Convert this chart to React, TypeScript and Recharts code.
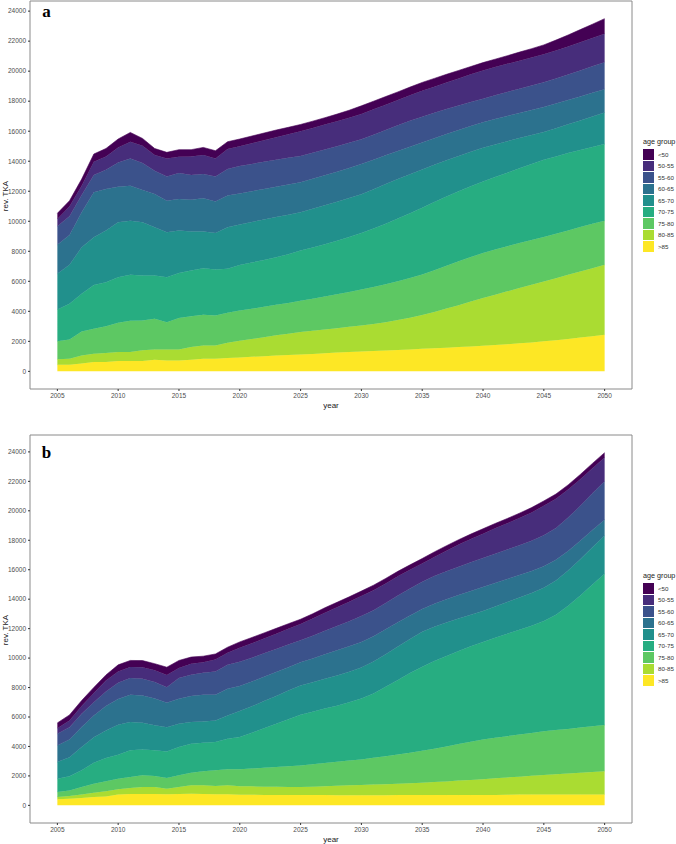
import { AreaChart, Area, XAxis, YAxis, ReferenceArea, ReferenceDot } from 'recharts'

const years = Array.from({ length: 46 }, (_, i) => 2005 + i)

const groups = ['<50', '50-55', '55-60', '60-65', '65-70', '70-75', '75-80', '80-85', '>85']
const colors = ['#440154', '#472D7B', '#3B528B', '#2C728E', '#21908C', '#27AD81', '#5DC863', '#AADC32', '#FDE725']

const xTicks = [2005, 2010, 2015, 2020, 2025, 2030, 2035, 2040, 2045, 2050]
const yTicks = [0, 2000, 4000, 6000, 8000, 10000, 12000, 14000, 16000, 18000, 20000, 22000, 24000]

// panel a, one array per age group, 2005..2050
const aUnder50 = [380, 370, 440, 510, 530, 560, 620, 490, 440, 400, 470, 450, 510, 510, 490, 490, 480, 480, 480, 460, 450, 450, 460, 480, 500, 540, 540, 540, 540, 550, 560, 550, 540, 530, 520, 520, 530, 540, 570, 590, 630, 690, 760, 840, 920, 1000]
const a50 = [480, 670, 620, 890, 880, 1000, 1110, 1150, 1040, 1200, 1090, 1240, 1260, 1200, 1330, 1310, 1380, 1440, 1500, 1570, 1650, 1660, 1660, 1660, 1670, 1680, 1690, 1690, 1690, 1700, 1720, 1740, 1770, 1800, 1840, 1880, 1880, 1880, 1870, 1860, 1850, 1860, 1870, 1880, 1890, 1900]
const a55 = [1240, 1240, 1150, 1150, 1290, 1620, 1820, 1800, 1550, 1620, 1730, 1640, 1620, 1680, 1770, 1830, 1820, 1810, 1800, 1780, 1750, 1730, 1720, 1700, 1680, 1660, 1670, 1690, 1710, 1720, 1720, 1700, 1670, 1640, 1610, 1580, 1580, 1590, 1610, 1630, 1650, 1670, 1700, 1730, 1760, 1800]
const a60 = [1930, 1990, 2330, 2990, 2770, 2370, 2330, 2150, 2220, 2100, 2100, 2130, 2220, 2090, 2110, 2060, 2050, 2040, 2020, 2010, 2000, 2000, 2000, 2000, 2000, 2010, 1960, 1910, 1870, 1840, 1800, 1770, 1750, 1730, 1710, 1690, 1690, 1690, 1680, 1670, 1670, 1650, 1620, 1600, 1580, 1550]
const a65 = [2380, 2600, 3100, 3180, 3440, 3660, 3610, 3540, 3210, 3000, 2820, 2590, 2440, 2440, 2770, 2710, 2700, 2690, 2680, 2640, 2550, 2580, 2590, 2600, 2600, 2580, 2620, 2640, 2630, 2590, 2550, 2480, 2410, 2350, 2300, 2250, 2170, 2090, 2010, 1930, 1850, 1880, 1920, 1970, 2030, 2110]
const a70 = [2120, 2370, 2510, 2920, 2930, 3030, 3060, 3000, 2890, 2990, 3010, 3040, 3100, 3050, 2930, 3030, 3080, 3120, 3170, 3240, 3350, 3420, 3490, 3570, 3660, 3770, 3900, 4040, 4180, 4320, 4440, 4540, 4610, 4660, 4710, 4770, 4830, 4900, 4980, 5070, 5150, 5150, 5150, 5140, 5120, 5100]
const a75 = [1200, 1290, 1600, 1660, 1790, 1950, 2080, 1990, 2040, 1820, 2090, 2060, 2040, 2000, 1990, 2010, 2020, 2030, 2030, 2050, 2080, 2130, 2190, 2250, 2320, 2400, 2460, 2520, 2580, 2640, 2700, 2780, 2860, 2930, 2970, 2990, 3010, 3010, 3000, 2980, 2960, 2960, 2960, 2960, 2960, 2940]
const a80 = [360, 400, 530, 560, 600, 600, 600, 710, 680, 730, 730, 840, 890, 890, 1020, 1110, 1180, 1260, 1350, 1420, 1500, 1540, 1580, 1630, 1680, 1720, 1800, 1890, 2000, 2120, 2260, 2420, 2600, 2790, 2990, 3190, 3360, 3520, 3680, 3840, 3990, 4130, 4270, 4400, 4530, 4660]
const aOver85 = [440, 440, 530, 620, 620, 690, 690, 690, 780, 730, 730, 780, 840, 840, 890, 930, 970, 1010, 1050, 1090, 1120, 1160, 1210, 1250, 1290, 1330, 1360, 1390, 1420, 1460, 1500, 1540, 1580, 1620, 1660, 1700, 1750, 1810, 1870, 1930, 2000, 2080, 2160, 2250, 2340, 2440]

// panel b
const bUnder50 = [360, 380, 380, 380, 380, 450, 450, 450, 450, 520, 520, 450, 410, 380, 380, 400, 390, 380, 370, 350, 330, 330, 340, 340, 340, 340, 340, 340, 340, 340, 340, 340, 340, 330, 330, 330, 330, 330, 330, 330, 330, 320, 320, 330, 330, 330]
const b50 = [380, 450, 520, 630, 750, 770, 750, 790, 790, 840, 680, 750, 720, 810, 810, 950, 980, 1010, 1040, 1070, 1100, 1160, 1220, 1270, 1320, 1360, 1360, 1330, 1300, 1260, 1230, 1300, 1400, 1500, 1580, 1650, 1720, 1780, 1850, 1930, 2000, 1980, 1900, 1800, 1700, 1620]
const b55 = [790, 840, 900, 900, 990, 1090, 1130, 1130, 1130, 1060, 1400, 1450, 1490, 1580, 1630, 1650, 1620, 1590, 1560, 1530, 1500, 1550, 1600, 1650, 1700, 1750, 1770, 1790, 1810, 1830, 1850, 1880, 1900, 1930, 1950, 1980, 1990, 2000, 2020, 2040, 2100, 2170, 2270, 2380, 2490, 2600]
const b60 = [1130, 1200, 1360, 1470, 1650, 1760, 1850, 1850, 1810, 1650, 1700, 1760, 1810, 1740, 1810, 1700, 1680, 1650, 1620, 1590, 1570, 1610, 1660, 1710, 1720, 1740, 1720, 1690, 1650, 1600, 1550, 1570, 1580, 1600, 1610, 1620, 1590, 1560, 1530, 1500, 1470, 1400, 1330, 1250, 1170, 1080]
const b65 = [1130, 1290, 1580, 1740, 1880, 2030, 1920, 1810, 1700, 1650, 1580, 1470, 1450, 1470, 1580, 1750, 1800, 1850, 1890, 1940, 1980, 2010, 2030, 2060, 2080, 2100, 2160, 2210, 2270, 2320, 2370, 2320, 2260, 2200, 2150, 2100, 2130, 2160, 2190, 2220, 2250, 2320, 2390, 2460, 2530, 2600]
const b70 = [900, 970, 1130, 1420, 1580, 1630, 1810, 1760, 1740, 1810, 1920, 1970, 1940, 1920, 2080, 2200, 2430, 2680, 2940, 3200, 3450, 3560, 3700, 3800, 3960, 4150, 4370, 4710, 5060, 5400, 5720, 5950, 6150, 6320, 6480, 6630, 6790, 6950, 7110, 7280, 7490, 7840, 8360, 8960, 9630, 10270]
const b75 = [340, 380, 520, 610, 680, 720, 750, 790, 750, 720, 790, 860, 950, 1060, 1090, 1150, 1210, 1280, 1340, 1410, 1470, 1520, 1570, 1630, 1680, 1730, 1820, 1900, 1990, 2080, 2170, 2270, 2380, 2480, 2590, 2690, 2750, 2800, 2860, 2910, 2970, 3000, 3030, 3070, 3100, 3130]
const b80 = [160, 180, 230, 290, 340, 360, 410, 480, 480, 380, 480, 570, 590, 570, 610, 580, 570, 560, 550, 545, 540, 570, 600, 640, 670, 700, 720, 750, 770, 800, 820, 870, 920, 980, 1030, 1080, 1130, 1180, 1220, 1270, 1320, 1370, 1420, 1480, 1530, 1580]
const bOver85 = [410, 450, 500, 570, 610, 730, 770, 770, 770, 750, 770, 790, 770, 750, 750, 720, 720, 710, 710, 700, 700, 700, 700, 690, 690, 680, 690, 690, 700, 700, 710, 710, 700, 700, 700, 700, 710, 720, 730, 740, 740, 740, 740, 740, 740, 740]

const seriesA = [aUnder50, a50, a55, a60, a65, a70, a75, a80, aOver85]
const seriesB = [bUnder50, b50, b55, b60, b65, b70, b75, b80, bOver85]

const xDomain = [2002.75, 2052.25]

function buildRows(series: number[][]) {
  return years.map((year, i) => {
    const row: Record<string, number> = { year }
    groups.forEach((g, k) => {
      row[g] = series[k][i]
    })
    return row
  })
}

function Panel({ letter, series, top }: { letter: string; series: number[][]; top: number }) {
  const rows = buildRows(series)
  const maxTotal = Math.max(...years.map((_, i) => series.reduce((s, arr) => s + arr[i], 0)))
  const yDomain = [-0.05 * maxTotal, 1.05 * maxTotal]
  const tickStyle = { fontSize: 6.5, fill: '#4d4d4d' }

  return (
    <div style={{ position: 'absolute', left: 0, top, width: 676, height: 421 }}>
      <AreaChart width={676} height={421} data={rows} margin={{ top: 1, right: 44, bottom: 2, left: 0 }}>
        <XAxis
          dataKey="year"
          type="number"
          domain={xDomain}
          ticks={xTicks}
          allowDataOverflow
          axisLine={false}
          tickLine={{ stroke: '#333' }}
          tickSize={2}
          tick={tickStyle}
          height={30}
        />
        <YAxis
          type="number"
          domain={yDomain}
          ticks={yTicks}
          allowDataOverflow
          axisLine={false}
          tickLine={{ stroke: '#333' }}
          tickSize={2}
          tick={tickStyle}
          width={30}
        />
        {groups
          .map((g, k) => (
            <Area
              key={g}
              type="linear"
              dataKey={g}
              stackId="1"
              fill={colors[k]}
              fillOpacity={1}
              stroke={colors[k]}
              strokeWidth={0.6}
              dot={false}
              activeDot={false}
              isAnimationActive={false}
            />
          ))
          .reverse()}
        <ReferenceArea
          x1={xDomain[0]}
          x2={xDomain[1]}
          y1={yDomain[0]}
          y2={yDomain[1]}
          fill="none"
          stroke="#8a8a8a"
          strokeWidth={1}
          ifOverflow="visible"
        />
        <ReferenceDot
          x={2004.1}
          y={24000}
          r={0}
          fill="none"
          stroke="none"
          label={{
            value: letter,
            position: 'center',
            fontSize: 17,
            fontWeight: 700,
            fontFamily: '"Liberation Serif", serif',
            fill: '#000',
          }}
        />
      </AreaChart>

      <div
        style={{
          position: 'absolute',
          left: 5,
          top: 196,
          transform: 'translate(-50%, -50%) rotate(-90deg)',
          fontSize: 8,
          color: '#222',
          whiteSpace: 'nowrap',
        }}
      >
        rev. TKA
      </div>
      <div
        style={{
          position: 'absolute',
          left: 331,
          top: 405,
          transform: 'translate(-50%, -50%)',
          fontSize: 8,
          color: '#222',
          whiteSpace: 'nowrap',
        }}
      >
        year
      </div>

      <div style={{ position: 'absolute', left: 643, top: 137, fontSize: 7.2, color: '#222', whiteSpace: 'nowrap', lineHeight: '10px' }}>
        age group
      </div>
      {groups.map((g, k) => (
        <div key={g} style={{ position: 'absolute', left: 643, top: 148.7 + k * 11.5, height: 11.5, display: 'flex', alignItems: 'center' }}>
          <div style={{ width: 11, height: 10.8, background: colors[k] }} />
          <span style={{ marginLeft: 4, fontSize: 6.2, color: '#333', whiteSpace: 'nowrap' }}>{g}</span>
        </div>
      ))}
    </div>
  )
}

export default function App() {
  return (
    <div
      style={{
        position: 'absolute',
        left: 0,
        top: 0,
        width: 676,
        height: 844,
        background: '#fff',
        fontFamily: '"Liberation Sans", Arial, sans-serif',
      }}
    >
      <Panel letter="a" series={seriesA} top={0} />
      <Panel letter="b" series={seriesB} top={434} />
    </div>
  )
}
